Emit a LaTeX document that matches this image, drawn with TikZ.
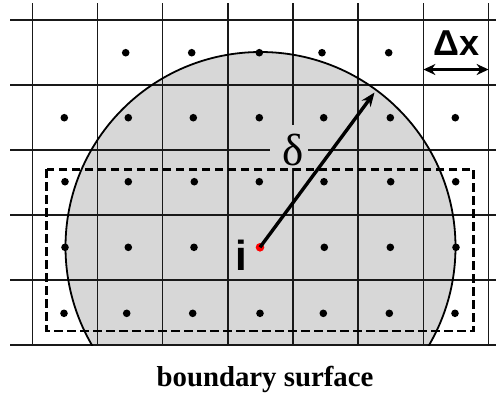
\documentclass[tikz,border=0pt]{standalone}
\usepackage{fontspec}
\setmainfont{Liberation Serif}
\newfontfamily\arialf{Liberation Sans}
\usetikzlibrary{arrows.meta}
\definecolor{circgray}{RGB}{215,215,215}
\tikzset{
  gridline/.style={line width=1.5pt, black!90},
  dotb/.style={circle, fill=black, inner sep=0pt, minimum size=7.6pt},
  dotr/.style={circle, fill=red, inner sep=0pt, minimum size=8.6pt},
  boundbox/.style={line width=2.7pt, dash pattern=on 8.5pt off 4.5pt},
  bigarrow/.style={line width=3.4pt, -{Stealth[length=14pt,width=11pt]}},
  dxarrow/.style={line width=2.8pt, {Stealth[length=12pt,width=11pt]}-{Stealth[length=12pt,width=11pt]}}
}
\begin{document}
\begin{tikzpicture}[x=1pt,y=-1pt]
\useasboundingbox (0,0) rectangle (496,400);
% gray disc clipped at the bottom line
\begin{scope}
  \clip (0,0) rectangle (496,345);
  \fill[circgray] (260.5,247) circle[radius=195pt];
\end{scope}
% grid
\foreach \x in {32.3,97.5,162.7,227.8,293,358.2,423.4,488.6}
  \draw[gridline] (\x,3) -- (\x,345);
\foreach \y in {20,85,150,215,280,345}
  \draw[gridline] (10,\y) -- (496,\y);
% circle outline
\begin{scope}
  \clip (0,0) rectangle (496,345);
  \draw[line width=1.8pt] (260.5,247) circle[radius=195pt];
\end{scope}
% dashed region
\draw[boundbox] (46.7,169.3) rectangle (473.7,331);
% dots
\foreach \x [count=\k] in {125.7,191.7,259.3,322,388.7}
  \node[dotb] (r1d\k) at (\x,52.7) {};
\foreach \x [count=\k] in {64.3,128.3,193.3,259.3,323.7,390.3,455.3}
  \node[dotb] (r2d\k) at (\x,117.7) {};
\foreach \x [count=\k] in {65,128.3,194.3,259.3,324,390.7,455.7}
  \node[dotb] (r3d\k) at (\x,181.7) {};
\foreach \x [count=\k] in {65,128.3,194,324.3,390.3,456}
  \node[dotb] (r4d\k) at (\x,247.3) {};
\foreach \x [count=\k] in {64,126.7,192.7,260,323.3,389.3,455}
  \node[dotb] (r5d\k) at (\x,313.3) {};
% delta label background and label
\fill[circgray] (270,125) rectangle (308,168);
\node[anchor=base, inner sep=0pt, font=\fontsize{45}{45}\selectfont] (delta) at (293,165) {δ};
% centre point and radius arrow
\coordinate (tip) at (374.5,92.5);
\node[dotr] (ci) at (260,247.3) {};
\draw[bigarrow] (ci.center) -- (tip);
\node[anchor=base, inner sep=0pt, font=\arialf\bfseries\fontsize{42}{42}\selectfont] (ilab) at (241.5,270) {i};
% grid spacing
\coordinate (dxl) at (423.4,69.5);
\coordinate (dxr) at (488.6,69.5);
\draw[dxarrow] (dxl) -- (dxr);
\node[anchor=base, inner sep=0pt, font=\arialf\bfseries\fontsize{36}{36}\selectfont] (dx) at (456.5,55) {Δx};
% caption
\node[anchor=base, inner sep=0pt, font=\bfseries\fontsize{28.8}{28.8}\selectfont] (cap) at (265,386.7) {boundary surface};
\end{tikzpicture}
\end{document}
